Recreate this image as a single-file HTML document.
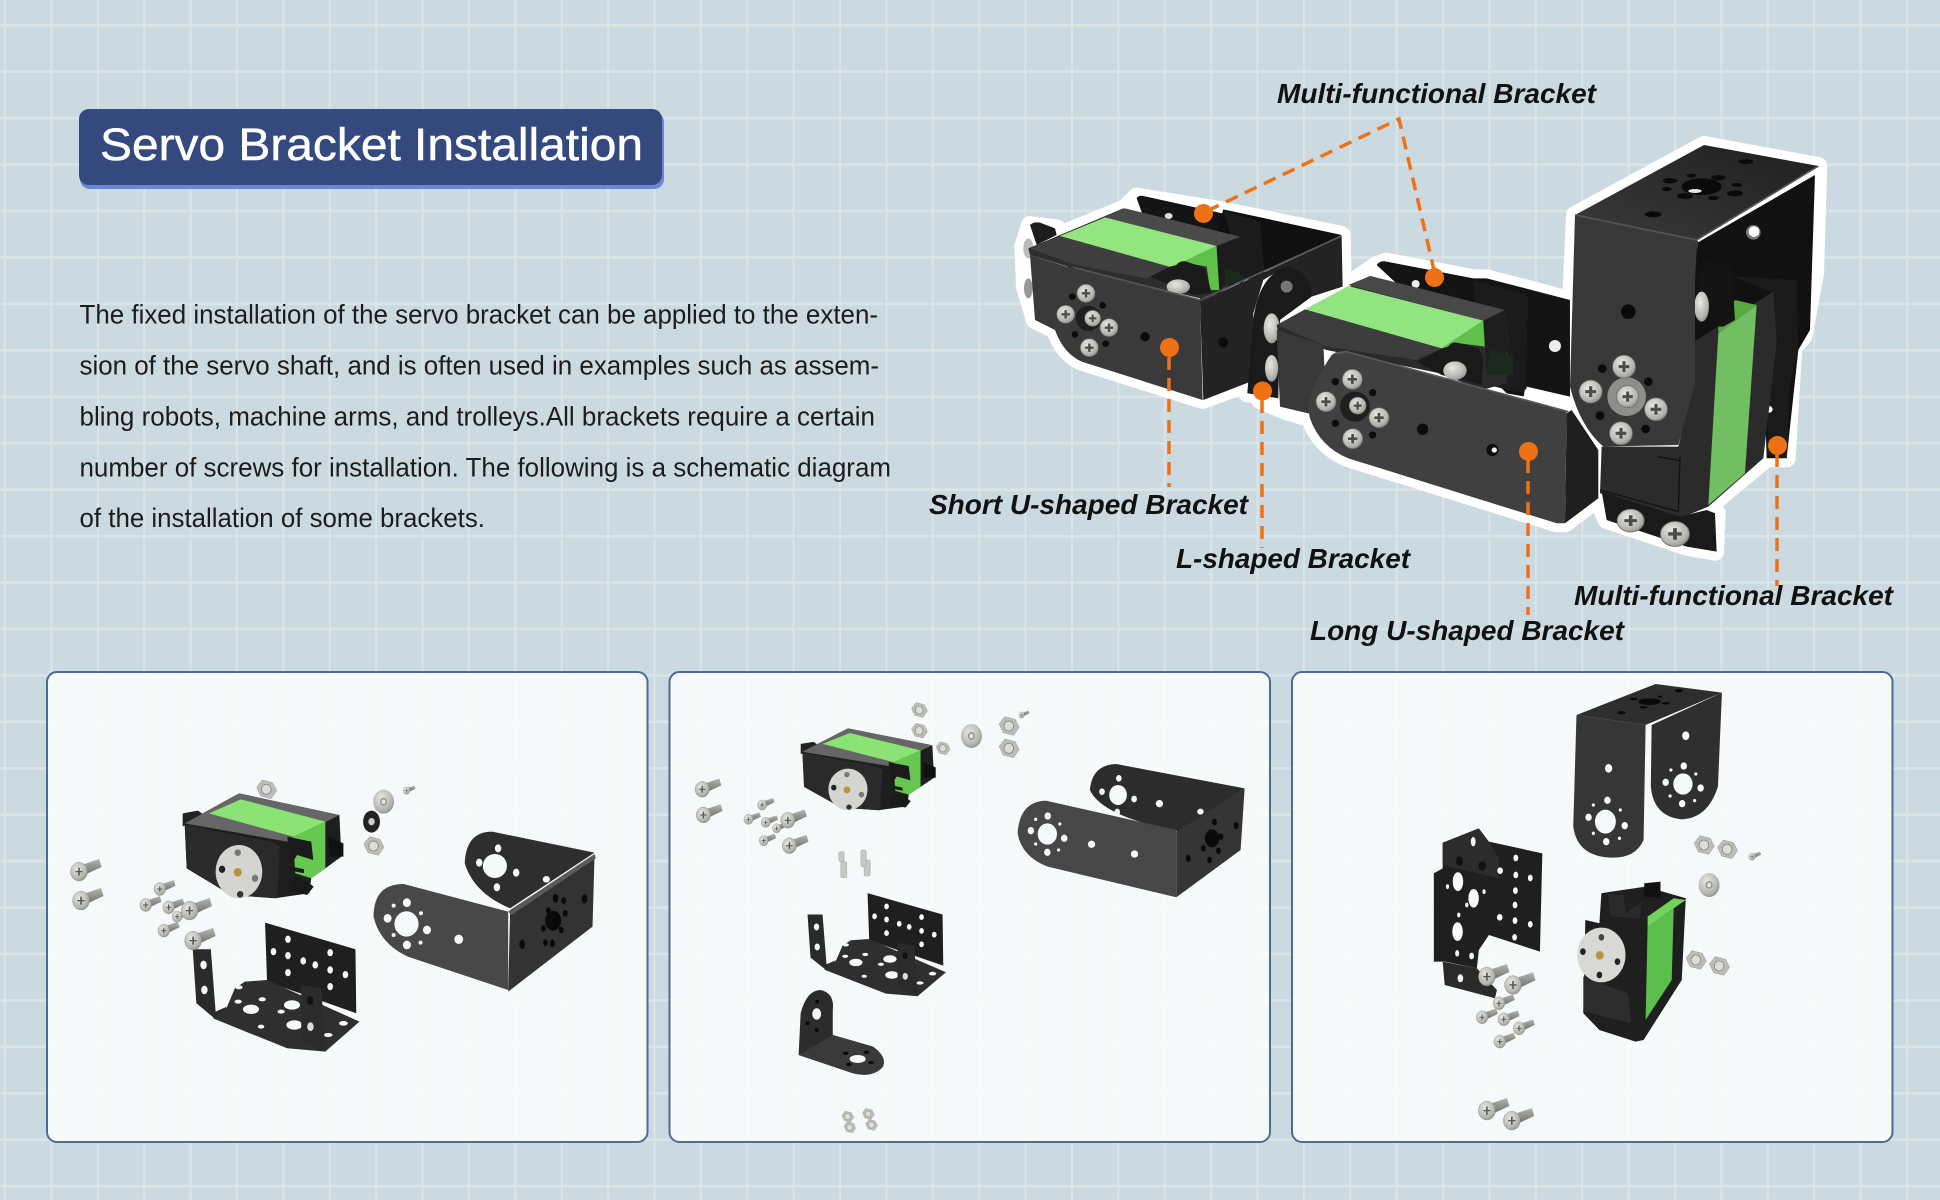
<!DOCTYPE html>
<html lang="en"><head><meta charset="utf-8"><title>Servo Bracket Installation</title>
<style>
html,body{margin:0;padding:0;width:1940px;height:1200px;overflow:hidden}
body{background-color:#cbdae0;background-image:linear-gradient(to right,#dbe5e8 2px,transparent 2px),linear-gradient(to bottom,#dbe5e8 2.5px,transparent 2.5px);background-size:46.4px 46.45px;background-position:4px 24px}
svg{position:absolute;left:0;top:0}
text{font-family:"Liberation Sans",sans-serif}
.p{font-size:26.5px;fill:#1c1c1c}
.l{font-size:27.5px;font-weight:bold;font-style:italic;fill:#111}
.o{stroke:#ee7215;stroke-width:3.5;stroke-dasharray:13 8;fill:none}
</style></head><body>
<svg width="1940" height="1200" viewBox="0 0 1940 1200" xmlns="http://www.w3.org/2000/svg">
<defs>
<radialGradient id="m" cx=".4" cy=".35" r=".8"><stop offset="0" stop-color="#e8e8e4"/><stop offset=".65" stop-color="#b4b4af"/><stop offset="1" stop-color="#777773"/></radialGradient>
<linearGradient id="sh" x1="0" y1="0" x2="0" y2="1"><stop offset="0" stop-color="#b5b5b0"/><stop offset="1" stop-color="#6c6c68"/></linearGradient>
<linearGradient id="top" x1="0" y1="1" x2="1" y2="0"><stop offset="0" stop-color="#3a3a3a"/><stop offset="1" stop-color="#1f1f1f"/></linearGradient>
<g id="sc"><circle r="30" fill="url(#m)" stroke="#6a6a66" stroke-width="2"/><path d="M-14,-4h28v8h-28zM-4,-14h8v28h-8z" fill="#4c4c4a"/></g>
<g id="b"><path d="M6,-20L50,-38L56,-14L10,12Z" fill="url(#sh)"/><ellipse rx="21" ry="28" fill="url(#m)" stroke="#7d7d79"/><path d="M-9,-2h18v4h-18zM-2,-12h4v24h-4z" fill="#555"/></g>
<g id="n"><path d="M-10,-28L16,-20L26,4L12,28L-14,20L-24,-6Z" fill="#bdbdb8" stroke="#7f7f7b"/><ellipse rx="12" ry="15" fill="#dcdcd8" stroke="#808080" stroke-width="2"/></g>
<g id="w"><ellipse rx="26" ry="36" fill="url(#m)"/><ellipse rx="9" ry="12" fill="#999"/><ellipse rx="5" ry="7" fill="#e4e4e0"/></g>

<g id="servo">
<path d="M380,460L418,452L430,462L380,500Z" fill="#222"/>
<path d="M385,490L520,400L770,465L775,590L735,625L700,655L695,700L610,715L500,705L390,625Z" fill="#1e1e1e"/>
<path d="M385,490L520,400L770,465L640,545Z" fill="#666"/>
<path d="M445,460L525,418L735,485L655,530Z" fill="#8ae374"/>
<path d="M655,530L735,485L735,625L700,655L660,640Z" fill="#66c850"/>
<path d="M385,495L600,545L622,560L615,715L500,705L390,625Z" fill="#2a2a2a"/>
<path d="M640,530L700,545L705,600L665,585L650,612Z" fill="#1a1a1a"/>
<path d="M645,618L682,628L682,640L648,632Z" fill="#1a1a1a"/>
<path d="M660,650L690,665L706,680L690,705L640,690Z" fill="#1a1a1a"/>
<path d="M742,530L780,550L780,590L745,590Z" fill="#111"/>
<ellipse cx="520" cy="635" rx="58" ry="80" fill="#d4d4d0"/>
<ellipse cx="517" cy="578" rx="8" ry="10" fill="#777"/><ellipse cx="478" cy="628" rx="8" ry="11" fill="#222"/><ellipse cx="560" cy="655" rx="8" ry="11" fill="#777"/><ellipse cx="523" cy="703" rx="8" ry="10" fill="#333"/><ellipse cx="517" cy="637" rx="10" ry="13" fill="#b8923f"/>
</g>

<g id="multi">
<path d="M585,788L810,868L812,1060L590,965Z" fill="#1f1f1f"/>
<g fill="#f6f9fa"><ellipse cx="642" cy="838" rx="7" ry="11"/><ellipse cx="606" cy="875" rx="7" ry="11"/><ellipse cx="642" cy="887" rx="7" ry="11"/><ellipse cx="680" cy="903" rx="7" ry="11"/><ellipse cx="710" cy="915" rx="7" ry="11"/><ellipse cx="747" cy="878" rx="7" ry="11"/><ellipse cx="747" cy="930" rx="7" ry="11"/><ellipse cx="785" cy="944" rx="7" ry="11"/><ellipse cx="642" cy="938" rx="7" ry="11"/><ellipse cx="747" cy="980" rx="7" ry="11"/></g>
<path d="M405,868L450,868L462,1055L490,1040L462,1078L414,1030Z" fill="#2a2a2a"/>
<ellipse cx="432" cy="915" rx="8" ry="13" fill="#f6f9fa"/><ellipse cx="434" cy="990" rx="8" ry="13" fill="#f6f9fa"/>
<path d="M455,1075L490,1042L510,985L535,965L590,960L820,1085L735,1175L640,1165Z" fill="#2f2f2f"/>
<g fill="#f6f9fa"><ellipse cx="550" cy="1048" rx="20" ry="14"/><ellipse cx="652" cy="1035" rx="20" ry="14"/><ellipse cx="658" cy="1095" rx="20" ry="14"/><ellipse cx="520" cy="982" rx="9" ry="6"/><ellipse cx="480" cy="1010" rx="9" ry="6"/><ellipse cx="518" cy="1025" rx="9" ry="6"/><ellipse cx="578" cy="1018" rx="9" ry="6"/><ellipse cx="625" cy="1055" rx="9" ry="6"/><ellipse cx="742" cy="1125" rx="11" ry="6"/><ellipse cx="780" cy="1090" rx="11" ry="7"/><ellipse cx="575" cy="1100" rx="8" ry="6"/></g>
<path d="M675,975L725,985L735,1172L675,1145Z" fill="#2b2b2b"/>
<ellipse cx="697" cy="1022" rx="8" ry="13" fill="#111"/><ellipse cx="698" cy="1100" rx="8" ry="13" fill="#ddd"/>
</g>
</defs>

<!-- panels -->
<g fill="#fff" fill-opacity=".83" stroke="#4f6a94" stroke-width="2">
<rect x="47" y="672" width="600.5" height="470" rx="10"/>
<rect x="669.5" y="672" width="600.5" height="470" rx="10"/>
<rect x="1292" y="672" width="600.5" height="470" rx="10"/>
</g>

<!-- title -->
<rect x="80" y="112" width="584" height="77" rx="10" fill="#6a87d5"/>
<rect x="79" y="109" width="583" height="76" rx="10" fill="#34497e"/>
<text x="100" y="160" font-size="45" fill="#fff" stroke="#fff" stroke-width=".5" textLength="543" lengthAdjust="spacingAndGlyphs">Servo Bracket Installation</text>

<!-- paragraph -->
<text class="p" x="79.5" y="323.5" textLength="798.5" lengthAdjust="spacingAndGlyphs">The fixed installation of the servo bracket can be applied to the exten-</text>
<text class="p" x="79.5" y="374.5" textLength="799.5" lengthAdjust="spacingAndGlyphs">sion of the servo shaft, and is often used in examples such as assem-</text>
<text class="p" x="79.5" y="425.5" textLength="795.5" lengthAdjust="spacingAndGlyphs">bling robots, machine arms, and trolleys.All brackets require a certain</text>
<text class="p" x="79.5" y="476.5" textLength="811.5" lengthAdjust="spacingAndGlyphs">number of screws for installation. The following is a schematic diagram</text>
<text class="p" x="79.5" y="527" textLength="405.5" lengthAdjust="spacingAndGlyphs">of the installation of some brackets.</text>

<!-- halos -->
<g fill="#fff" stroke="#fff" stroke-width="54" stroke-linejoin="round">
<path transform="translate(1010,180) scale(.3333)" d="M60,135L140,145L150,165L345,85L380,50L630,90L995,165L998,320L905,360L805,650L712,640L712,610L578,660L215,545Q160,520 135,450L75,420L45,320L40,200Z"/>
<path transform="translate(1260,250) scale(.3333)" d="M50,225L265,105L350,45L380,35L640,85L680,85L930,150L930,470L1015,600L1015,745L915,820L890,820L265,625Q180,590 150,505L70,480L0,450Z"/>
<path transform="translate(1560,130) scale(.3333)" d="M45,255L432,45L775,108L765,430L730,620L700,650L680,985L620,985L445,1130L470,1150L465,1265L380,1250L140,1170L110,1100L100,960L50,860L25,700Z"/>
</g>

<!-- left assembly -->
<g transform="translate(1010,180) scale(.3333)">
<path d="M380,55Q385,45 400,48L750,125L765,290L700,300L400,110Z" fill="#141414"/>
<ellipse cx="476" cy="108" rx="12" ry="9" fill="#ddd"/>
<path d="M640,88L995,165L570,365L570,340Z" fill="#101010"/>
<path d="M640,90L750,125L765,290L700,300Z" fill="#1b1b1b"/>
<path d="M60,135Q70,125 90,128L135,145L140,165L80,195Z" fill="#1d1d1d"/>
<ellipse cx="55" cy="205" rx="15" ry="30" fill="#bbb"/><ellipse cx="55" cy="325" rx="13" ry="30" fill="#999"/>
<path d="M55,205L340,85L690,172L690,280L630,340L570,355L190,265L60,225Z" fill="#2d2d2d"/>
<path d="M60,205L150,168L485,262L410,295L300,275L180,250Z" fill="#3e3e3e"/>
<path d="M285,112L345,85L690,170L620,198Z" fill="#4a4a4a"/>
<path d="M150,168L285,112L620,198L485,262Z" fill="#93e57f"/>
<path d="M485,262L620,198L628,330L600,330L590,260L510,245Z" fill="#5fc14a"/>
<path d="M620,198L690,172L695,270L628,330Z" fill="#1c1c1c"/>
<path d="M645,265L700,285L700,310L645,310Z" fill="#1b2a1e"/>
<path d="M500,255Q510,240 530,245L585,265L605,340L550,345L470,310L420,290L480,260Z" fill="#1a1a1a"/>
<ellipse cx="505" cy="320" rx="35" ry="22" fill="url(#m)"/>
<path d="M570,365L995,170L998,320L905,350L830,258L760,300L730,400L735,600L580,660Z" fill="#232323"/>
<path d="M60,225L170,260Q190,260 215,265L570,360L578,660L215,545Q160,520 135,450L75,420Z" fill="#3a3a3a"/>
<path d="M190,262L570,360L995,168" fill="none" stroke="#555" stroke-width="5"/>
<circle cx="235" cy="415" r="38" fill="#1f1f1f"/>
<g fill="#0c0c0c"><circle cx="187" cy="350" r="10"/><circle cx="278" cy="376" r="10"/><circle cx="195" cy="463" r="10"/><circle cx="287" cy="491" r="10"/><circle cx="405" cy="470" r="14"/><circle cx="640" cy="487" r="15"/></g>
<use href="#sc" transform="translate(228,340) scale(.9)"/><use href="#sc" transform="translate(167,403) scale(.9)"/><use href="#sc" transform="translate(248,415) scale(.8)"/><use href="#sc" transform="translate(297,443) scale(.9)"/><use href="#sc" transform="translate(238,503) scale(.9)"/>
<path d="M712,640L730,420Q745,290 830,258Q900,270 905,350L810,420L805,655Z" fill="#1a1a1a"/>
<circle cx="830" cy="320" r="18" fill="#777"/>
<ellipse cx="785" cy="445" rx="24" ry="45" fill="url(#m)"/><ellipse cx="785" cy="565" rx="20" ry="40" fill="url(#m)"/>
</g>

<!-- middle assembly -->
<g transform="translate(1260,250) scale(.3333)">
<path d="M350,45Q360,30 380,35L640,85L680,85L930,150L930,440L800,410L795,440L740,430L420,110Z" fill="#141414"/>
<path d="M640,90L790,130Q805,140 805,150L795,430L660,400Z" fill="#1b1b1b"/>
<circle cx="885" cy="288" r="18" fill="#eee"/><circle cx="467" cy="102" r="12" fill="#eee"/>
<path d="M50,225L330,78L735,180L745,270L740,400L665,420L540,370L200,300L55,250Z" fill="#2a2a2a"/>
<path d="M50,225L135,178L545,295L470,330L200,290Z" fill="#3c3c3c"/>
<path d="M265,105L330,78L735,180L670,212Z" fill="#484848"/>
<path d="M135,178L265,108L670,212L545,295Z" fill="#91e480"/>
<path d="M545,295L670,212L675,290L600,280Z" fill="#5fc14a"/>
<path d="M670,212L735,180L745,300L680,370Z" fill="#1e1e1e"/>
<path d="M690,300L760,320L760,375L680,375Z" fill="#1b2a1e"/>
<path d="M565,290Q575,272 600,280L655,295L670,320L665,405L545,375L470,335L540,300Z" fill="#1a1a1a"/>
<ellipse cx="585" cy="362" rx="35" ry="28" fill="url(#m)"/>
<path d="M795,418L925,450L925,478L790,445Z" fill="#fff"/>
<path d="M50,240L190,285L200,480L145,490L60,470Z" fill="#383838"/>
<path d="M920,490L935,480L1015,600L1015,745L915,820Z" fill="#1f1f1f"/>
<path d="M215,315Q235,300 260,305L920,485L915,820L890,820L265,625Q180,590 150,505Q130,440 215,315Z" fill="#404040"/>
<path d="M225,310L260,305L925,485" fill="none" stroke="#5a5a5a" stroke-width="5"/>
<circle cx="285" cy="470" r="45" fill="#1f1f1f"/>
<g fill="#0c0c0c"><circle cx="226" cy="395" r="11"/><circle cx="338" cy="428" r="11"/><circle cx="226" cy="520" r="11"/><circle cx="338" cy="555" r="11"/><circle cx="488" cy="538" r="17"/><circle cx="697" cy="600" r="18"/></g>
<circle cx="703" cy="600" r="8" fill="#eee"/>
<use href="#sc" x="277" y="388"/><use href="#sc" x="198" y="455"/><use href="#sc" transform="translate(293,467) scale(.85)"/><use href="#sc" x="357" y="503"/><use href="#sc" x="278" y="566"/>
</g>

<!-- right assembly -->
<g transform="translate(1560,130) scale(.3333)">
<path d="M400,345L765,135L750,600L715,660L680,985L620,985L610,640L395,660Z" fill="#111"/>
<circle cx="580" cy="307" r="22" fill="#777"/><circle cx="582" cy="305" r="16" fill="#fff"/>
<path d="M520,440L710,450L715,660L690,760L680,985L620,975L640,490Z" fill="#1a1a1a"/>
<circle cx="628" cy="838" r="10" fill="#fff"/>
<path d="M395,640L640,485L650,640L610,985L445,1130L360,1165L120,1090L125,950L355,950L385,820Z" fill="#2b2b2b"/>
<path d="M475,610L590,525L555,1030L445,1125Z" fill="#72bf63"/>
<path d="M475,590L525,510L590,525L475,610Z" fill="#58a93e"/>
<path d="M435,395L515,410L525,570L490,590L465,590L410,460Z" fill="#141414"/>
<ellipse cx="425" cy="530" rx="22" ry="45" fill="url(#m)"/>
<path d="M125,1085L360,1160L440,1140L465,1150L470,1265L380,1250L140,1170Z" fill="#1a1a1a"/>
<path d="M120,1080L355,1145L360,980M295,980L360,992" fill="none" stroke="#111" stroke-width="4"/>
<path d="M45,255L432,45L775,108L410,330Z" fill="url(#top)"/>
<path d="M45,255L410,330Q420,335 410,360L405,450L405,760L370,890L355,945L130,950Q60,890 30,770Z" fill="#383838"/>
<path d="M45,255L410,330L775,108" fill="none" stroke="#555" stroke-width="5"/>
<g fill="#0a0a0a"><ellipse cx="425" cy="170" rx="60" ry="25"/><ellipse cx="330" cy="152" rx="22" ry="8"/><ellipse cx="475" cy="143" rx="22" ry="8"/><ellipse cx="320" cy="177" rx="15" ry="6"/><ellipse cx="395" cy="137" rx="15" ry="6"/><ellipse cx="530" cy="165" rx="16" ry="6"/><ellipse cx="525" cy="190" rx="24" ry="9"/><ellipse cx="375" cy="198" rx="24" ry="9"/><ellipse cx="460" cy="204" rx="17" ry="6"/><ellipse cx="558" cy="95" rx="23" ry="7"/><ellipse cx="280" cy="253" rx="25" ry="9"/><circle cx="127" cy="716" r="13"/><circle cx="265" cy="755" r="13"/><circle cx="120" cy="857" r="13"/><circle cx="257" cy="897" r="13"/><circle cx="205" cy="545" r="22"/></g>
<ellipse cx="405" cy="183" rx="20" ry="6" fill="#dfe8eb"/>
<circle cx="200" cy="800" r="58" fill="#8e8e8a"/>
<use href="#sc" transform="translate(192,710) scale(1.15)"/><use href="#sc" transform="translate(92,785) scale(1.15)"/><use href="#sc" transform="translate(203,800) scale(1.1)"/><use href="#sc" transform="translate(288,838) scale(1.15)"/><use href="#sc" transform="translate(183,910) scale(1.15)"/>
<use href="#sc" transform="translate(212,1172) scale(1.35,1.15)"/><use href="#sc" transform="translate(345,1212) scale(1.45,1.25)"/>
</g>

<!-- connectors -->
<path class="o" d="M1207,211L1399,119L1434,270"/>
<path class="o" d="M1169,357V487"/><path class="o" d="M1262,400V548"/><path class="o" d="M1528,460V615"/><path class="o" d="M1777,454V586"/>
<g fill="#ee7215"><circle cx="1203.5" cy="213.5" r="9.5"/><circle cx="1434.5" cy="277.5" r="9.5"/><circle cx="1169.5" cy="347.5" r="9.5"/><circle cx="1262.5" cy="391" r="9.5"/><circle cx="1528.5" cy="451.5" r="9.5"/><circle cx="1777.5" cy="445.5" r="9.5"/></g>

<!-- labels -->
<text class="l" x="1277" y="103" textLength="319" lengthAdjust="spacingAndGlyphs">Multi-functional Bracket</text>
<text class="l" x="929" y="514" textLength="319" lengthAdjust="spacingAndGlyphs">Short U-shaped Bracket</text>
<text class="l" x="1176" y="568" textLength="234" lengthAdjust="spacingAndGlyphs">L-shaped Bracket</text>
<text class="l" x="1310" y="640" textLength="314" lengthAdjust="spacingAndGlyphs">Long U-shaped Bracket</text>
<text class="l" x="1574" y="605" textLength="319" lengthAdjust="spacingAndGlyphs">Multi-functional Bracket</text>

<!-- panel 1 -->
<g transform="translate(30,660) scale(.4018,.3333)">
<use href="#n" transform="translate(588,388)"/>
<use href="#servo"/>
<use href="#w" x="880" y="425"/><ellipse cx="850" cy="485" rx="21" ry="33" fill="#222"/><ellipse cx="850" cy="485" rx="8" ry="11" fill="#ccc"/><use href="#n" x="855" y="558"/>
<use href="#b" transform="translate(937,392) scale(.4)"/>
<path d="M1082,610Q1085,515 1150,515L1405,578L1195,745Q1105,700 1082,610Z" fill="#2e2e2e"/>
<path d="M1405,585L1400,800L1190,995L1195,750Z" fill="#333"/>
<path d="M855,770Q855,672 930,672L1190,755L1190,990L940,890Q870,850 855,770Z" fill="#484848"/>
<path d="M1190,755L1405,582L1408,595L1198,765Z" fill="#5a5a5a"/>
<g fill="#f6f9fa"><ellipse cx="1157" cy="618" rx="30" ry="36"/><ellipse cx="1165" cy="565" rx="8" ry="12"/><ellipse cx="1118" cy="608" rx="8" ry="12"/><ellipse cx="1210" cy="638" rx="8" ry="12"/><ellipse cx="1162" cy="682" rx="8" ry="12"/><ellipse cx="1285" cy="658" rx="9" ry="10"/>
<ellipse cx="937" cy="792" rx="30" ry="38"/><ellipse cx="938" cy="728" rx="10" ry="13"/><ellipse cx="890" cy="775" rx="10" ry="13"/><ellipse cx="988" cy="810" rx="10" ry="13"/><ellipse cx="938" cy="855" rx="10" ry="13"/><ellipse cx="1067" cy="838" rx="11" ry="14"/><ellipse cx="905" cy="737" rx="5" ry="6"/><ellipse cx="973" cy="760" rx="5" ry="6"/><ellipse cx="905" cy="825" rx="5" ry="6"/><ellipse cx="972" cy="848" rx="5" ry="6"/></g>
<g fill="#0a0a0a"><ellipse cx="1302" cy="782" rx="20" ry="30"/><ellipse cx="1308" cy="715" rx="7" ry="13"/><ellipse cx="1328" cy="722" rx="6" ry="10"/><ellipse cx="1332" cy="760" rx="6" ry="10"/><ellipse cx="1322" cy="810" rx="6" ry="10"/><ellipse cx="1300" cy="850" rx="6" ry="12"/><ellipse cx="1278" cy="805" rx="6" ry="10"/><ellipse cx="1283" cy="848" rx="6" ry="10"/><ellipse cx="1290" cy="752" rx="6" ry="10"/><ellipse cx="1380" cy="717" rx="7" ry="14"/><ellipse cx="1225" cy="853" rx="7" ry="14"/></g>
<use href="#multi"/>
<use href="#b" transform="translate(122,635)"/><use href="#b" transform="translate(127,722)"/>
<use href="#b" transform="translate(323,687) scale(.7)"/><use href="#b" transform="translate(288,735) scale(.7)"/><use href="#b" transform="translate(345,742) scale(.7)"/><use href="#b" transform="translate(366,770) scale(.6)"/><use href="#b" transform="translate(333,812) scale(.7)"/>
<use href="#b" transform="translate(397,752)"/><use href="#b" transform="translate(406,842)"/>
</g>

<!-- panel 2 -->
<g transform="translate(660,660) scale(.4018,.3333)">
<g transform="translate(31,-107) scale(.84,.78)"><use href="#servo"/></g>
<use href="#n" transform="translate(645,150) scale(.8)"/><use href="#n" transform="translate(645,212) scale(.8)"/><use href="#n" transform="translate(704,265) scale(.7)"/><use href="#w" transform="translate(775,228)"/><use href="#n" transform="translate(868,198)"/><use href="#n" transform="translate(868,265)"/><use href="#b" transform="translate(900,165) scale(.35)"/>
<path d="M1070,390Q1075,315 1135,312L1455,385L1295,515Q1100,470 1070,390Z" fill="#2c2c2c"/>
<path d="M1285,515L1455,385L1445,570L1285,712Z" fill="#353535"/>
<path d="M890,520Q895,425 960,422L1285,510L1285,712L965,620Q900,590 890,520Z" fill="#474747"/>
<g fill="#f6f9fa"><ellipse cx="1140" cy="405" rx="22" ry="30"/><ellipse cx="1142" cy="355" rx="7" ry="10"/><ellipse cx="1100" cy="395" rx="7" ry="10"/><ellipse cx="1180" cy="417" rx="7" ry="10"/><ellipse cx="1138" cy="456" rx="7" ry="10"/><ellipse cx="1243" cy="431" rx="9" ry="11"/><ellipse cx="1345" cy="455" rx="8" ry="9"/>
<ellipse cx="964" cy="522" rx="24" ry="32"/><ellipse cx="965" cy="468" rx="8" ry="11"/><ellipse cx="923" cy="512" rx="8" ry="11"/><ellipse cx="1006" cy="535" rx="8" ry="11"/><ellipse cx="964" cy="577" rx="8" ry="11"/><ellipse cx="1074" cy="553" rx="9" ry="11"/><ellipse cx="1181" cy="582" rx="9" ry="11"/><ellipse cx="935" cy="478" rx="4" ry="5"/><ellipse cx="995" cy="492" rx="4" ry="5"/><ellipse cx="935" cy="552" rx="4" ry="5"/><ellipse cx="992" cy="570" rx="4" ry="5"/></g>
<g fill="#0a0a0a"><ellipse cx="1374" cy="535" rx="18" ry="27"/><ellipse cx="1380" cy="486" rx="6" ry="10"/><ellipse cx="1396" cy="530" rx="6" ry="10"/><ellipse cx="1390" cy="572" rx="6" ry="10"/><ellipse cx="1368" cy="600" rx="6" ry="10"/><ellipse cx="1352" cy="565" rx="6" ry="10"/><ellipse cx="1434" cy="497" rx="6" ry="11"/><ellipse cx="1315" cy="595" rx="6" ry="11"/></g>
<g transform="translate(31,69) scale(.83,.8)"><use href="#multi"/></g>
<path d="M345,1185L350,1060Q365,990 400,990Q435,1000 430,1050L430,1125L530,1160Q565,1190 555,1220Q530,1255 480,1240Z" fill="#2c2c2c"/>
<path d="M345,1185L430,1125L530,1160Q565,1190 555,1220Q530,1255 480,1240Z" fill="#3a3a3a"/>
<g fill="#f6f9fa"><ellipse cx="390" cy="1062" rx="11" ry="17"/><ellipse cx="492" cy="1197" rx="20" ry="12"/></g>
<g fill="#0a0a0a"><ellipse cx="391" cy="1025" rx="5" ry="6"/><ellipse cx="367" cy="1090" rx="5" ry="6"/><ellipse cx="390" cy="1110" rx="5" ry="6"/><ellipse cx="462" cy="1180" rx="7" ry="5"/><ellipse cx="514" cy="1177" rx="7" ry="5"/><ellipse cx="470" cy="1213" rx="7" ry="5"/><ellipse cx="525" cy="1208" rx="7" ry="5"/></g>
<use href="#b" transform="translate(105,388) scale(.85)"/><use href="#b" transform="translate(108,465) scale(.85)"/>
<use href="#b" transform="translate(254,435) scale(.55)"/><use href="#b" transform="translate(220,478) scale(.55)"/><use href="#b" transform="translate(263,487) scale(.55)"/><use href="#b" transform="translate(290,505) scale(.5)"/><use href="#b" transform="translate(258,542) scale(.55)"/><use href="#b" transform="translate(318,481) scale(.85)"/><use href="#b" transform="translate(322,557) scale(.85)"/>
<g fill="#c9c9c4" stroke="#888"><rect x="450" y="605" width="15" height="48" rx="4"/><rect x="508" y="600" width="15" height="48" rx="4"/><rect x="445" y="575" width="13" height="30" rx="4"/><rect x="500" y="570" width="13" height="50" rx="4"/></g>
<use href="#n" transform="translate(467,1370) scale(.6)"/><use href="#n" transform="translate(518,1362) scale(.6)"/><use href="#n" transform="translate(472,1402) scale(.6)"/><use href="#n" transform="translate(526,1395) scale(.6)"/>
</g>

<!-- panel 3 -->
<g transform="translate(1290,660) scale(.4018,.3333)">
<path d="M900,195L1075,98L1065,380Q1040,475 975,478Q905,470 898,380Z" fill="#2f2f2f"/>
<path d="M713,165L910,72L1075,98L885,195Z" fill="#2e2e2e"/>
<path d="M713,165L885,195L880,540Q860,595 800,593Q715,590 705,500Z" fill="#363636"/>
<g fill="#f6f9fa"><ellipse cx="785" cy="485" rx="26" ry="36"/><ellipse cx="790" cy="421" rx="8" ry="11"/><ellipse cx="743" cy="472" rx="8" ry="11"/><ellipse cx="833" cy="497" rx="8" ry="11"/><ellipse cx="787" cy="545" rx="8" ry="11"/><ellipse cx="793" cy="325" rx="9" ry="13"/><ellipse cx="755" cy="435" rx="4" ry="5"/><ellipse cx="822" cy="450" rx="4" ry="5"/><ellipse cx="755" cy="520" rx="4" ry="5"/><ellipse cx="820" cy="535" rx="4" ry="5"/>
<ellipse cx="978" cy="372" rx="24" ry="32"/><ellipse cx="980" cy="318" rx="8" ry="11"/><ellipse cx="935" cy="367" rx="8" ry="11"/><ellipse cx="1022" cy="384" rx="8" ry="11"/><ellipse cx="976" cy="431" rx="8" ry="11"/><ellipse cx="985" cy="227" rx="9" ry="13"/><ellipse cx="948" cy="330" rx="4" ry="5"/><ellipse cx="1010" cy="342" rx="4" ry="5"/><ellipse cx="946" cy="408" rx="4" ry="5"/><ellipse cx="1007" cy="422" rx="4" ry="5"/></g>
<g fill="#0a0a0a"><ellipse cx="895" cy="125" rx="28" ry="10"/><ellipse cx="968" cy="92" rx="10" ry="5"/><ellipse cx="825" cy="158" rx="10" ry="5"/><ellipse cx="855" cy="117" rx="10" ry="4"/><ellipse cx="935" cy="130" rx="10" ry="4"/><ellipse cx="880" cy="142" rx="10" ry="4"/><ellipse cx="920" cy="110" rx="6" ry="3"/></g>
<path d="M380,550L470,505L472,548L495,545L628,580L622,875L495,825L470,870L465,925L385,905L358,905L358,640L380,625Z" fill="#1f1f1f"/>
<path d="M380,548L470,505L495,545L520,595L518,655L380,615Z" fill="#2c2c2c"/>
<path d="M380,905L465,925L515,990L510,1015L385,975Z" fill="#2a2a2a"/>
<g fill="#f6f9fa"><ellipse cx="418" cy="665" rx="13" ry="28"/><ellipse cx="457" cy="715" rx="13" ry="28"/><ellipse cx="417" cy="815" rx="13" ry="28"/><ellipse cx="456" cy="545" rx="6" ry="14"/><ellipse cx="562" cy="594" rx="6" ry="10"/><ellipse cx="598" cy="654" rx="6" ry="10"/><ellipse cx="562" cy="645" rx="6" ry="10"/><ellipse cx="561" cy="692" rx="6" ry="10"/><ellipse cx="560" cy="735" rx="6" ry="10"/><ellipse cx="523" cy="632" rx="7" ry="10"/><ellipse cx="522" cy="772" rx="7" ry="10"/><ellipse cx="560" cy="782" rx="6" ry="10"/><ellipse cx="598" cy="793" rx="6" ry="10"/><ellipse cx="559" cy="832" rx="6" ry="10"/><ellipse cx="452" cy="888" rx="6" ry="10"/><ellipse cx="416" cy="880" rx="5" ry="10"/><ellipse cx="424" cy="955" rx="7" ry="12"/><ellipse cx="483" cy="695" rx="4" ry="7"/><ellipse cx="392" cy="680" rx="4" ry="7"/><ellipse cx="420" cy="765" rx="4" ry="7"/><ellipse cx="440" cy="735" rx="4" ry="7"/></g>
<ellipse cx="422" cy="603" rx="9" ry="14" fill="#111"/><ellipse cx="478" cy="618" rx="9" ry="14" fill="#111"/>
<path d="M770,790L775,700L800,695L885,680L985,715L975,960L880,1140L860,1145L770,1110L730,1060L735,780Z" fill="#1f1f1f"/>
<path d="M890,800L955,745L950,960L885,1080Z" fill="#5cbf4d"/>
<path d="M890,770L955,715L985,720L955,745L890,800Z" fill="#6ed45a"/>
<path d="M882,670L922,665L922,715L880,708Z" fill="#111"/>
<path d="M790,700L830,705L835,760L875,725L870,775L800,770Z" fill="#2a2a2a"/>
<path d="M730,950L840,1000L850,1090L730,1055Z" fill="#2d2d2d"/>
<ellipse cx="775" cy="885" rx="60" ry="82" fill="#d8d8d4"/>
<ellipse cx="775" cy="832" rx="7" ry="10" fill="#444"/><ellipse cx="729" cy="875" rx="7" ry="10" fill="#222"/><ellipse cx="815" cy="905" rx="7" ry="10" fill="#222"/><ellipse cx="770" cy="945" rx="7" ry="10" fill="#222"/><ellipse cx="771" cy="886" rx="10" ry="13" fill="#b8923f"/>
<use href="#n" transform="translate(1030,555)"/><use href="#n" transform="translate(1088,568)"/><use href="#b" transform="translate(1150,590) scale(.4)"/><use href="#w" x="1043" y="675"/><use href="#n" transform="translate(1010,900)"/><use href="#n" transform="translate(1068,918)"/>
<use href="#b" transform="translate(490,950)"/><use href="#b" transform="translate(555,975)"/><use href="#b" transform="translate(520,1030) scale(.7)"/><use href="#b" transform="translate(478,1072) scale(.7)"/><use href="#b" transform="translate(532,1078) scale(.7)"/><use href="#b" transform="translate(570,1105) scale(.7)"/><use href="#b" transform="translate(522,1145) scale(.7)"/>
<use href="#b" transform="translate(490,1352)"/><use href="#b" transform="translate(552,1382)"/>
</g>
</svg>
</body></html>
